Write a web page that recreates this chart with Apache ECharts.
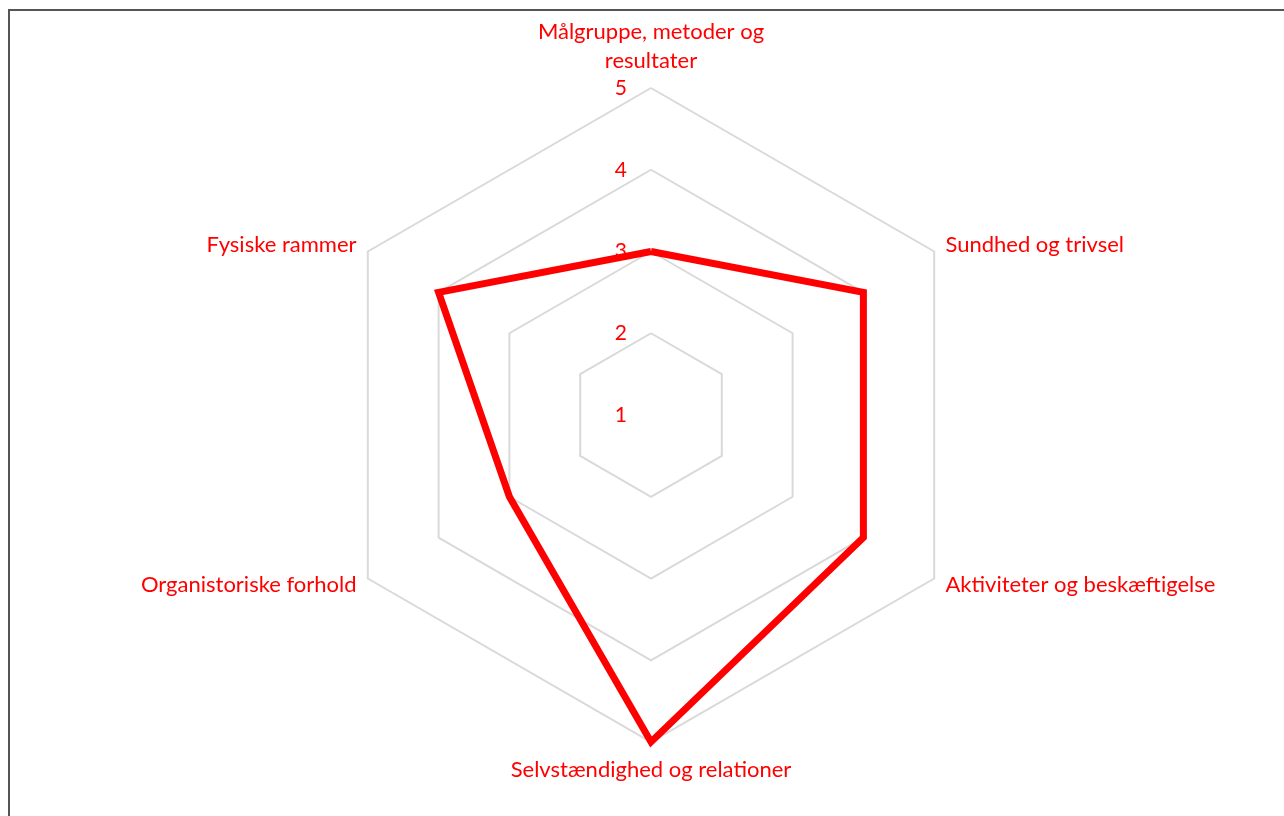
<!DOCTYPE html>
<html>
<head>
<meta charset="utf-8">
<script src="https://cdn.jsdelivr.net/npm/echarts@6/dist/echarts.min.js"></script>
<style>
html,body{margin:0;padding:0;background:#fff;}
#chart{width:1284px;height:816px;}
</style>
</head>
<body>
<div id="chart"></div>
<script>
// kategorier i urets retning, startende øverst
var categories = ["Målgruppe, metoder og\nresultater", "Sundhed og trivsel", "Aktiviteter og beskæftigelse", "Selvstændighed og relationer", "Organistoriske forhold", "Fysiske rammer"];
var scores = [3, 4, 4, 5, 3, 4];
var axisMin = 1, axisMax = 5;

// echarts tegner radar mod uret, så rækkefølgen vendes (første bliver øverst)
var order = [0, 5, 4, 3, 2, 1];
var indicators = order.map(function(i, k) {
	var ind = {name: categories[i], min: axisMin, max: axisMax};
	if (k == 0) ind.axisLabel = {show: true};
	return ind;
});
var values = order.map(function(i) { return scores[i]; });

var myChart = echarts.init(document.getElementById("chart"));
myChart.setOption({
	animation: false,
	graphic: [{
		type: "rect",
		shape: {x: 9, y: 10, width: 1400, height: 900},
		style: {fill: "none", stroke: "#555", lineWidth: 2},
		silent: true
	}],
	radar: {
		center: [651, 415],
		radius: 327,
		startAngle: 90,
		splitNumber: 4,
		shape: "polygon",
		nameGap: 13,
		axisName: {color: "#ff0000", fontFamily: "Lato", fontSize: 22, lineHeight: 29},
		axisLine: {show: false},
		axisTick: {show: false},
		axisLabel: {show: false, color: "#ff0000", fontFamily: "Lato", fontSize: 21, margin: 24},
		splitLine: {lineStyle: {color: "#d9d9d9", width: 2}},
		splitArea: {show: false},
		indicator: indicators
	},
	series: [{
		type: "radar",
		symbol: "none",
		lineStyle: {color: "#ff0000", width: 7, join: "miter"},
		data: [{value: values}]
	}]
});
</script>
</body>
</html>
